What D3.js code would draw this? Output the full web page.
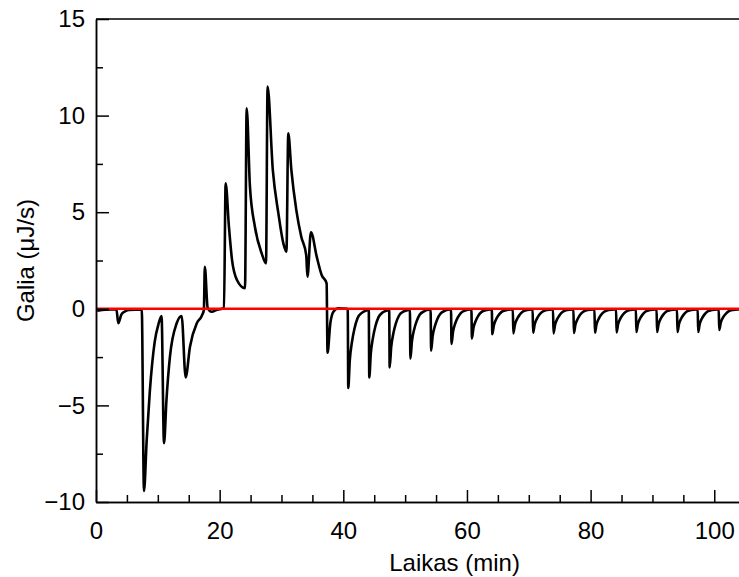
<!DOCTYPE html>
<html>
<head>
<meta charset="utf-8">
<script src="https://d3js.org/d3.v7.min.js"></script>
<style>
    body { margin: 0; background: #fff; }
    svg { display: block; font-family: "Liberation Sans", Arial, sans-serif; }
    .axis path { stroke: #000; stroke-width: 1.5px; }
    .axis line { stroke: #000; stroke-width: 1.5px; }
    .axis text { font-size: 24px; fill: #000; font-family: "Liberation Sans", Arial, sans-serif; }
    .title { font-size: 24px; fill: #000; }
</style>
</head>
<body>
<svg width="739" height="577"></svg>
<script>
    // [time (min), power (uJ/s)]
    var leadIn = [[0.2, -0.1], [1.5, -0.05], [3.3, -0.02], [3.6, -0.75], [4.1, -0.3], [4.6, -0.15], [5.3, -0.06], [7.4, -0.04]];

    var exoPeaks = [
        [7.76, -9.43], [8.2, -6.8], [8.7, -4.3], [9.5, -1.7], [10.1, -0.8], [10.6, -0.37],
        [11.0, -6.96], [11.4, -4.7], [11.96, -2.48], [13.05, -0.75], [13.85, -0.37],
        [14.5, -3.55], [15.2, -1.96], [16.3, -0.75], [17.1, -0.37], [17.45, -0.06],
        [17.6, 2.18], [18.06, 0.05], [18.7, -0.15], [19.6, -0.05], [20.7, 0.03]
    ];

    var endoPeaks = [
        [20.97, 6.5], [21.5, 4.25], [22.0, 2.53], [22.8, 1.49], [24.1, 1.06],
        [24.37, 10.38], [24.9, 6.32], [25.7, 4.25], [26.8, 2.87], [27.5, 2.35],
        [27.75, 11.5], [28.6, 7.18], [29.5, 4.94], [30.3, 3.39], [30.8, 2.96],
        [31.1, 9.08], [31.6, 7.18], [32.4, 5.11], [33.2, 3.73], [34.0, 2.78], [34.2, 1.66],
        [34.76, 3.96], [35.7, 2.7], [36.5, 1.75], [37.3, 1.32],
        [37.45, -2.27], [37.9, -0.75], [38.4, -0.15], [39.2, 0.03], [40.6, 0.0]
    ];

    var dilutionSpikes = [
        [40.72, -0.05], [40.8, -4.1], [41.05, -2.67], [41.4, -1.72], [41.8, -1.03], [42.3, -0.49], [43.0, -0.21], [43.8, -0.08],
        [44.12, -0.05], [44.2, -3.55], [44.45, -2.31], [44.8, -1.49], [45.2, -0.89], [45.7, -0.43], [46.4, -0.18], [47.2, -0.07],
        [47.42, -0.05], [47.5, -3.03], [47.75, -1.97], [48.1, -1.27], [48.5, -0.76], [49.0, -0.36], [49.7, -0.15], [50.5, -0.06],
        [50.77, -0.05], [50.85, -2.58], [51.1, -1.68], [51.45, -1.08], [51.85, -0.65], [52.35, -0.31], [53.05, -0.13], [53.85, -0.05],
        [54.12, -0.05], [54.2, -2.17], [54.45, -1.41], [54.8, -0.91], [55.2, -0.54], [55.7, -0.26], [56.4, -0.11], [57.2, -0.04],
        [57.42, -0.04], [57.5, -1.82], [57.75, -1.18], [58.1, -0.76], [58.5, -0.46], [59.0, -0.22], [59.7, -0.09], [60.5, -0.04],
        [60.72, -0.04], [60.8, -1.53], [61.05, -0.99], [61.4, -0.64], [61.8, -0.38], [62.3, -0.18], [63.0, -0.08], [63.8, -0.03],
        [64.02, -0.03], [64.1, -1.32], [64.35, -0.86], [64.7, -0.55], [65.1, -0.33], [65.6, -0.16], [66.3, -0.07], [67.1, -0.03],
        [67.42, -0.03], [67.5, -1.27], [67.75, -0.83], [68.1, -0.53], [68.5, -0.32], [69.0, -0.15], [69.7, -0.06], [70.4, -0.03],
        [70.62, -0.03], [70.7, -1.24], [70.95, -0.81], [71.3, -0.52], [71.7, -0.31], [72.2, -0.15], [72.9, -0.06], [73.7, -0.03],
        [73.92, -0.03], [74.0, -1.27], [74.25, -0.83], [74.6, -0.53], [75.0, -0.32], [75.5, -0.15], [76.2, -0.06], [77.0, -0.03],
        [77.22, -0.03], [77.3, -1.25], [77.55, -0.81], [77.9, -0.53], [78.3, -0.31], [78.8, -0.15], [79.5, -0.06], [80.3, -0.03],
        [80.62, -0.03], [80.7, -1.24], [80.95, -0.81], [81.3, -0.52], [81.7, -0.31], [82.2, -0.15], [82.9, -0.06], [83.8, -0.03],
        [84.12, -0.03], [84.2, -1.22], [84.45, -0.79], [84.8, -0.51], [85.2, -0.31], [85.7, -0.15], [86.4, -0.06], [87.1, -0.03],
        [87.32, -0.03], [87.4, -1.2], [87.65, -0.78], [88.0, -0.5], [88.4, -0.3], [88.9, -0.14], [89.6, -0.06], [90.4, -0.03],
        [90.67, -0.03], [90.75, -1.2], [91.0, -0.78], [91.35, -0.5], [91.75, -0.3], [92.25, -0.14], [92.95, -0.06], [93.75, -0.03],
        [93.97, -0.03], [94.05, -1.2], [94.3, -0.78], [94.65, -0.5], [95.05, -0.3], [95.55, -0.14], [96.25, -0.06], [97.05, -0.03],
        [97.32, -0.03], [97.4, -1.2], [97.65, -0.78], [98.0, -0.5], [98.4, -0.3], [98.9, -0.14], [99.6, -0.06], [100.4, -0.03],
        [100.72, -0.03], [100.8, -1.1], [101.05, -0.72], [101.4, -0.46], [101.8, -0.28], [102.3, -0.13], [103.0, -0.06], [104.0, -0.03], [104.5, -0.02]
    ];

    var baseline = [[0, 0], [104, 0]];

    var xMajor = [0, 20, 40, 60, 80, 100];
    var xMinor = [5, 10, 15, 25, 30, 35, 45, 50, 55, 65, 70, 75, 85, 90, 95];
    var yMajor = [-10, -5, 0, 5, 10, 15];
    var yMinor = [-7.5, -2.5, 2.5, 7.5, 12.5];

    var svg = d3.select("svg"),
        margin = { top: 19, right: 0, bottom: 75, left: 96 },
        width = +svg.attr("width") - margin.left - margin.right,
        height = +svg.attr("height") - margin.top - margin.bottom;

    var x = d3.scaleLinear().domain([0, 104]).range([0, width]);
    var y = d3.scaleLinear().domain([-10, 15]).range([height, 0]);

    var g = svg.append("g")
        .attr("transform", "translate(" + margin.left + "," + margin.top + ")");

    var clip = svg.append("clipPath").attr("id", "plot")
        .append("rect").attr("x", 0).attr("y", 0).attr("width", width).attr("height", height);

    var points = leadIn.concat(exoPeaks, endoPeaks, dilutionSpikes);

    var line = d3.line()
        .x(function (d) { return x(d[0]); })
        .y(function (d) { return y(d[1]); })
        .curve(d3.curveMonotoneX);

    var plot = g.append("g").attr("clip-path", "url(#plot)");

    plot.append("path")
        .datum(points)
        .attr("fill", "none")
        .attr("stroke", "#000")
        .attr("stroke-width", 2.6)
        .attr("stroke-linejoin", "round")
        .attr("d", line);

    plot.append("path")
        .datum(baseline)
        .attr("fill", "none")
        .attr("stroke", "#ff0000")
        .attr("stroke-width", 2.5)
        .attr("d", d3.line().x(function (d) { return x(d[0]); }).y(function (d) { return y(d[1]); }));

    // axes, ticks pointing inward
    g.append("g")
        .attr("class", "axis")
        .attr("transform", "translate(0," + height + ")")
        .call(d3.axisBottom(x).tickValues(xMinor).tickSizeInner(-7).tickSizeOuter(0).tickFormat(""));

    g.append("g")
        .attr("class", "axis")
        .attr("transform", "translate(0," + height + ")")
        .call(d3.axisBottom(x).tickValues(xMajor).tickSizeInner(-12).tickSizeOuter(0).tickPadding(20).tickFormat(d3.format("d")));

    g.append("g")
        .attr("class", "axis")
        .call(d3.axisLeft(y).tickValues(yMinor).tickSizeInner(-7).tickSizeOuter(0).tickFormat(""));

    g.append("g")
        .attr("class", "axis")
        .call(d3.axisLeft(y).tickValues(yMajor).tickSizeInner(-13).tickSizeOuter(0).tickPadding(11)
            .tickFormat(function (d) { return d < 0 ? "\u2212" + Math.abs(d) : d; }));

    g.append("line")
        .attr("x1", 0).attr("x2", width).attr("y1", 0).attr("y2", 0)
        .attr("stroke", "#000").attr("stroke-width", 1.5);

    svg.append("text")
        .attr("class", "title")
        .attr("text-anchor", "middle")
        .attr("x", margin.left + x(58))
        .attr("y", 571)
        .text("Laikas (min)");

    svg.append("text")
        .attr("class", "title")
        .attr("text-anchor", "middle")
        .attr("transform", "translate(34," + (margin.top + height / 2) + ") rotate(-90)")
        .text("Galia (\u03bcJ/s)");
</script>
</body>
</html>
